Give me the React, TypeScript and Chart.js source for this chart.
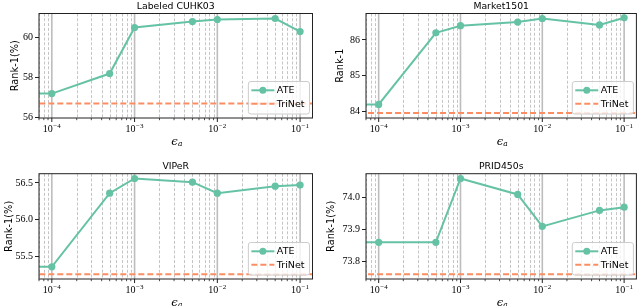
import { useEffect, useRef } from 'react';
import { Chart, registerables } from 'chart.js';

Chart.register(...registerables);

// epsilon values; the first one stands in for epsilon = 0 (off the left of the log axis)
const epsilons = [1e-6, 1e-4, 5e-4, 1e-3, 5e-3, 1e-2, 5e-2, 1e-1];
const trinetSpan = [1e-6, 10];
const xTickExponents = [-4, -3, -2, -1];

const cuhk03ATE = [57.2, 57.2, 58.2, 60.5, 60.8, 60.9, 60.95, 60.3];
const cuhk03TriNet = 56.7;
const cuhk03YTicks = [56, 58, 60];

const marketATE = [84.2, 84.2, 86.2, 86.4, 86.5, 86.6, 86.42, 86.62];
const marketTriNet = 83.96;
const marketYTicks = [84, 85, 86];

const viperATE = [55.36, 55.36, 56.36, 56.56, 56.51, 56.36, 56.455, 56.47];
const viperTriNet = 55.26;
const viperYTicks = [55.5, 56.0, 56.5];

const pridATE = [73.86, 73.86, 73.86, 74.06, 74.01, 73.91, 73.96, 73.97];
const pridTriNet = 73.76;
const pridYTicks = [73.8, 73.9, 74.0];

const ATE_COLOR = '#66c2a5';
const TRINET_COLOR = '#fc8d62';

type Panel = {
  title: string;
  ylabel: string;
  ate: number[];
  trinet: number;
  yTicks: number[];
  dec: number;
  yMin: number;
  yMax: number;
  left: number;
  right: number;
  top: number;
  bottom: number;
  ylabelX: number;
  pos: [number, number];
};

const panels: Panel[] = [
  { title: 'Labeled CUHK03', ylabel: 'Rank-1(%)', ate: cuhk03ATE, trinet: cuhk03TriNet, yTicks: cuhk03YTicks, dec: 0, yMin: 55.98, yMax: 61.2, left: 39, right: 312.5, top: 13.5, bottom: 118, ylabelX: 15.5, pos: [0, 0] },
  { title: 'Market1501', ylabel: 'Rank-1', ate: marketATE, trinet: marketTriNet, yTicks: marketYTicks, dec: 0, yMin: 83.82, yMax: 86.74, left: 46, right: 319, top: 13.5, bottom: 118, ylabelX: 20.5, pos: [320, 0] },
  { title: 'VIPeR', ylabel: 'Rank-1(%)', ate: viperATE, trinet: viperTriNet, yTicks: viperYTicks, dec: 1, yMin: 55.195, yMax: 56.625, left: 39, right: 312.5, top: 20.7, bottom: 126, ylabelX: 9.5, pos: [0, 153] },
  { title: 'PRID450s', ylabel: 'Rank-1(%)', ate: pridATE, trinet: pridTriNet, yTicks: pridYTicks, dec: 1, yMin: 73.745, yMax: 74.075, left: 46, right: 319, top: 20.7, bottom: 126, ylabelX: 11, pos: [320, 153] },
];

const W = 320;
const H = 153;

function makeDecor(p: Panel) {
  return {
    id: 'decor',
    beforeDatasetsDraw(chart: any) {
      const { ctx, chartArea: a } = chart;
      const x = chart.scales.x;
      ctx.save();
      ctx.beginPath();
      ctx.rect(a.left, a.top, a.right - a.left, a.bottom - a.top);
      ctx.clip();
      // minor dashed grid
      ctx.strokeStyle = '#c4c4c4';
      ctx.lineWidth = 1;
      ctx.setLineDash([3, 1.8]);
      for (let e = -6; e <= 0; e++) {
        for (let m = 2; m <= 9; m++) {
          const v = m * Math.pow(10, e);
          if (v < x.min || v > x.max) continue;
          const px = Math.round(x.getPixelForValue(v)) + 0.5;
          ctx.beginPath();
          ctx.moveTo(px, a.top);
          ctx.lineTo(px, a.bottom);
          ctx.stroke();
        }
      }
      // major solid grid
      ctx.setLineDash([]);
      ctx.strokeStyle = '#bdbdbd';
      ctx.lineWidth = 1.6;
      for (const e of xTickExponents) {
        const px = x.getPixelForValue(Math.pow(10, e));
        ctx.beginPath();
        ctx.moveTo(px, a.top);
        ctx.lineTo(px, a.bottom);
        ctx.stroke();
      }
      ctx.restore();
    },
    afterDraw(chart: any) {
      const { ctx, chartArea: a } = chart;
      const x = chart.scales.x;
      ctx.save();
      // frame
      ctx.strokeStyle = '#222';
      ctx.lineWidth = 1;
      ctx.strokeRect(a.left, a.top, a.right - a.left, a.bottom - a.top);
      // x ticks
      ctx.strokeStyle = '#222';
      for (let e = -6; e <= 0; e++) {
        for (let m = 1; m <= 9; m++) {
          const v = m * Math.pow(10, e);
          if (v < x.min || v > x.max) continue;
          const px = x.getPixelForValue(v);
          ctx.lineWidth = m === 1 ? 1 : 0.8;
          ctx.beginPath();
          ctx.moveTo(px, a.bottom);
          ctx.lineTo(px, a.bottom + (m === 1 ? 4 : 2.2));
          ctx.stroke();
        }
      }
      // x tick labels 10^e
      ctx.fillStyle = '#000';
      ctx.textBaseline = 'alphabetic';
      for (const e of xTickExponents) {
        const px = x.getPixelForValue(Math.pow(10, e));
        const base = '10';
        const sup = '\u2212' + String(-e);
        ctx.font = '10px "Liberation Serif"';
        const wb = ctx.measureText(base).width;
        ctx.font = '7px "Liberation Serif"';
        const ws = ctx.measureText(sup).width;
        const x0 = px - (wb + ws + 0.5) / 2;
        ctx.font = '10px "Liberation Serif"';
        ctx.textAlign = 'left';
        ctx.fillText(base, x0, a.bottom + 14.3);
        ctx.font = '7px "Liberation Serif"';
        ctx.fillText(sup, x0 + wb + 0.5, a.bottom + 10.2);
      }
      // x axis label epsilon_a
      const cx = (a.left + a.right) / 2;
      ctx.font = 'italic 11.5px "DejaVu Serif"';
      ctx.textAlign = 'left';
      const we = ctx.measureText('\u03F5').width;
      ctx.fillText('\u03F5', cx - 4.5, a.bottom + 26.5);
      ctx.font = 'italic 7.5px "DejaVu Serif"';
      ctx.fillText('a', cx - 4.5 + we + 0.2, a.bottom + 28.3);
      // title
      ctx.font = '9.3px "DejaVu Sans"';
      ctx.textAlign = 'center';
      ctx.fillText(p.title, cx, a.top - 5);
      // y label
      ctx.save();
      ctx.translate(p.ylabelX, (a.top + a.bottom) / 2);
      ctx.rotate(-Math.PI / 2);
      ctx.font = '9.8px "DejaVu Sans"';
      ctx.textAlign = 'center';
      ctx.textBaseline = 'middle';
      ctx.fillText(p.ylabel, 0, 0);
      ctx.restore();
      // legend
      ctx.font = '9.5px "DejaVu Sans"';
      const tw = Math.max(ctx.measureText('ATE').width, ctx.measureText('TriNet').width);
      const lw = 28.5 + tw + 5;
      const lh = 32.5;
      const lr = a.right - 3;
      const lb = a.bottom - 4;
      const ll = lr - lw;
      const lt = lb - lh;
      ctx.beginPath();
      (ctx as any).roundRect(ll, lt, lw, lh, 2.5);
      ctx.fillStyle = 'rgba(255,255,255,0.8)';
      ctx.fill();
      ctx.strokeStyle = '#cccccc';
      ctx.lineWidth = 1;
      ctx.stroke();
      const y1 = lt + 8.8;
      const y2 = lt + 22.3;
      ctx.strokeStyle = ATE_COLOR;
      ctx.lineWidth = 2;
      ctx.beginPath();
      ctx.moveTo(ll + 3, y1);
      ctx.lineTo(ll + 26, y1);
      ctx.stroke();
      ctx.fillStyle = ATE_COLOR;
      ctx.beginPath();
      ctx.arc(ll + 14.5, y1, 3.5, 0, Math.PI * 2);
      ctx.fill();
      ctx.strokeStyle = TRINET_COLOR;
      ctx.setLineDash([6, 3]);
      ctx.beginPath();
      ctx.moveTo(ll + 3, y2);
      ctx.lineTo(ll + 26, y2);
      ctx.stroke();
      ctx.setLineDash([]);
      ctx.fillStyle = '#000';
      ctx.textAlign = 'left';
      ctx.textBaseline = 'middle';
      ctx.fillText('ATE', ll + 28.5, y1 + 0.5);
      ctx.fillText('TriNet', ll + 28.5, y2 + 0.5);
      ctx.restore();
    },
  };
}

function PanelChart({ p }: { p: Panel }) {
  const ref = useRef<HTMLCanvasElement | null>(null);
  useEffect(() => {
    if (!ref.current) return;
    const chart = new Chart(ref.current, {
      type: 'line',
      data: {
        datasets: [
          {
            label: 'ATE',
            data: epsilons.map((e, i) => ({ x: e, y: p.ate[i] })),
            borderColor: ATE_COLOR,
            backgroundColor: ATE_COLOR,
            borderWidth: 2,
            pointRadius: epsilons.map((_, i) => (i === 0 ? 0 : 3.6)),
            pointBorderWidth: 0,
            pointHoverRadius: 0,
            tension: 0,
          },
          {
            label: 'TriNet',
            data: trinetSpan.map((e) => ({ x: e, y: p.trinet })),
            borderColor: TRINET_COLOR,
            backgroundColor: TRINET_COLOR,
            borderWidth: 2,
            borderDash: [6, 3],
            pointRadius: 0,
            tension: 0,
          },
        ],
      },
      options: {
        animation: false,
        responsive: false,
        devicePixelRatio: 1,
        events: [],
        layout: { padding: { left: 0, right: W - p.right, top: p.top, bottom: 0 } },
        plugins: { legend: { display: false }, title: { display: false }, tooltip: { enabled: false } },
        scales: {
          x: {
            type: 'logarithmic',
            min: Math.pow(10, -4.15),
            max: Math.pow(10, -0.85),
            afterFit: (s: any) => {
              s.height = H - p.bottom;
            },
            ticks: { display: false },
            grid: { display: false },
            border: { display: false },
          },
          y: {
            type: 'linear',
            min: p.yMin,
            max: p.yMax,
            afterFit: (s: any) => {
              s.width = p.left;
            },
            afterBuildTicks: (s: any) => {
              s.ticks = p.yTicks.map((v) => ({ value: v }));
            },
            ticks: {
              callback: (v: any) => Number(v).toFixed(p.dec),
              font: { family: 'Liberation Serif', size: 10 },
              color: '#000',
              padding: 2,
            },
            grid: { drawOnChartArea: false, drawTicks: true, tickLength: 4, tickColor: '#222', tickWidth: 1 },
            border: { display: false },
          },
        },
      },
      plugins: [makeDecor(p)],
    } as any);
    return () => chart.destroy();
  }, [p]);
  return (
    <canvas
      ref={ref}
      width={W}
      height={H}
      style={{ position: 'absolute', left: p.pos[0], top: p.pos[1], width: W, height: H }}
    />
  );
}

export default function App() {
  return (
    <div style={{ position: 'fixed', left: 0, top: 0, width: 640, height: 306, background: '#fff', overflow: 'hidden' }}>
      {panels.map((p) => (
        <PanelChart key={p.title} p={p} />
      ))}
    </div>
  );
}
